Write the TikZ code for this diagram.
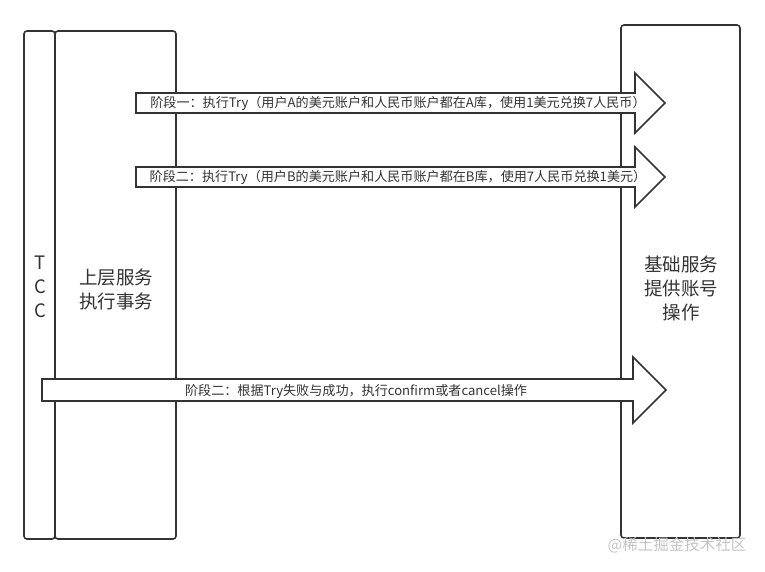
\documentclass[tikz,border=0pt]{standalone}
\usepackage{fontspec}
\setmainfont{Noto Sans CJK SC}
\newfontfamily\cjk{Noto Sans CJK SC}
\definecolor{ln}{HTML}{333333}
\definecolor{tx}{HTML}{333333}
\definecolor{wm}{HTML}{C4C4C4}
\begin{document}
\begin{tikzpicture}[x=1pt,y=-1pt,
  box/.style={draw=ln,line width=1.6pt,rounded corners=3pt,fill=white},
  arr/.style={draw=ln,line width=1.6pt,fill=white,line join=miter},
  lbl/.style={text=tx,font=\cjk\fontsize{13.1}{15}\selectfont,inner sep=0pt},
  big/.style={text=tx,font=\cjk\fontsize{18.5}{24}\selectfont,align=center,inner sep=0pt}]
\useasboundingbox (0,0) rectangle (765,571);
% boxes
\draw[box] (24,31) rectangle (55,539);
\draw[box] (55,31) rectangle (176,539);
\draw[box] (621,25) rectangle (740,538);
\node[big] (tcc) at (40,287) {T\\C\\C};
\node[big] (upper) at (116,289) {上层服务\\执行事务};
\node[big] (base) at (681,288) {基础服务\\提供账号\\操作};
% arrows
\draw[arr] (136,93) -- (635,93) -- (635,73) -- (665,103) -- (635,133) -- (635,113) -- (136,113) -- cycle;
\draw[arr] (136,167) -- (635,167) -- (635,147) -- (665,177) -- (635,207) -- (635,187) -- (136,187) -- cycle;
\draw[arr] (42,379) -- (633,379) -- (633,357) -- (666,390) -- (633,423) -- (633,401) -- (42,401) -- cycle;
\node[lbl] (s1) at (398,103) {阶段一：执行Try（用户A的美元账户和人民币账户都在A库，使用1美元兑换7人民币）};
\node[lbl] (s2) at (398,177) {阶段二：执行Try（用户B的美元账户和人民币账户都在B库，使用7人民币兑换1美元）};
\node[lbl] (s3) at (356,391) {阶段二：根据Try失败与成功，执行confirm或者cancel操作};
% watermark
\node[text=wm,font=\cjk\fontsize{15.5}{17}\selectfont,inner sep=0pt] (wmk) at (677,545) {@稀土掘金技术社区};
\end{tikzpicture}
\end{document}
